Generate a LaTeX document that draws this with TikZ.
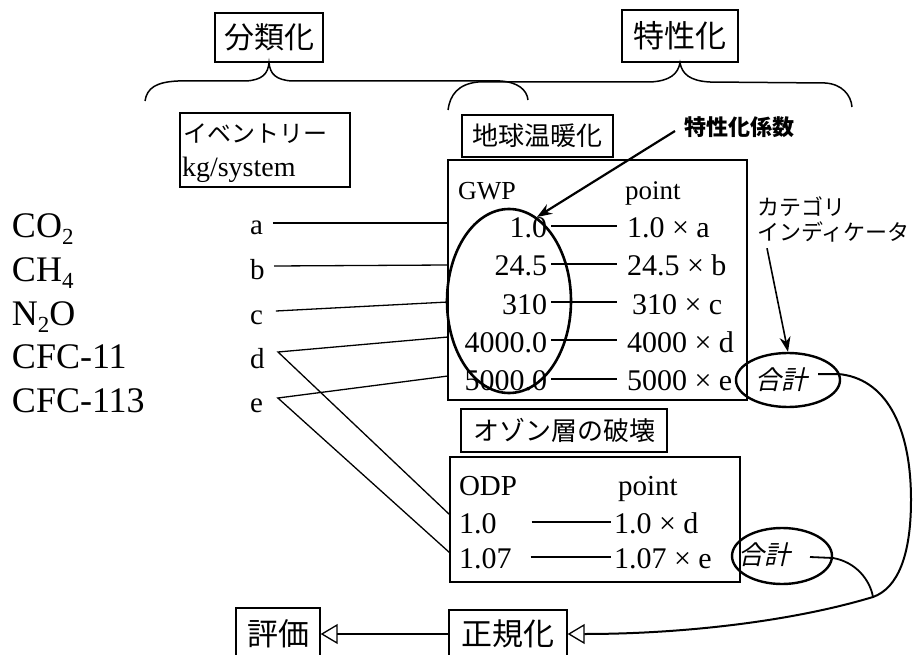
\documentclass[tikz,border=0pt]{standalone}
\usepackage{fontspec}
\setmainfont{Liberation Serif}
\newfontfamily\jp{Noto Sans CJK JP}
\newfontfamily\jpit[FakeSlant=0.22]{Noto Sans CJK JP}
\usetikzlibrary{arrows.meta,shapes.geometric}
\newcommand\sz[1]{\fontsize{#1}{#1}\selectfont}
\newcommand\subsc[1]{\raisebox{-7pt}{\sz{23}#1}}
\tikzset{
  box/.style={draw, line width=1.4pt, inner sep=0pt, rectangle},
  txt/.style={inner sep=0pt, outer sep=0pt},
  thinline/.style={line width=1.3pt},
  bracepath/.style={line width=1.5pt},
  oval/.style={draw, ellipse, inner sep=0pt},
  openarr/.style={-{Triangle[open, length=17pt, width=20pt, line width=1.3pt]}},
  filledarr/.style={-{Stealth[length=15pt, width=11pt]}}
}
\begin{document}
\begin{tikzpicture}[x=1pt,y=-1pt]
\useasboundingbox (0,0) rectangle (913,655);
\clip (0,0) rectangle (913,655);
\fill[white] (0,0) rectangle (913,655);

% top boxes
\node[box, minimum width=108pt, minimum height=49pt, font=\jp\sz{30}] (bunrui) at (269,37.5) {分類化};
\node[box, minimum width=116pt, minimum height=52pt, font=\jp\sz{31}] (tokusei) at (680,36) {特性化};

% braces
\draw[bracepath] (145,101) .. controls (147,88) and (156,82) .. (178,81) -- (246,81)
  .. controls (262,80) and (268,74) .. (bunrui.south)
  .. controls (270,74) and (276,80) .. (292,81) -- (500,81)
  .. controls (518,82) and (527,90) .. (528,100);
\draw[bracepath] (448,110) .. controls (450,95) and (458,84) .. (478,82) -- (650,82)
  .. controls (670,81) and (678,74) .. (tokusei.south)
  .. controls (682,74) and (690,81) .. (710,82) -- (825,83)
  .. controls (842,84) and (851,95) .. (852,107);

% inventory box
\node[box, minimum width=170pt, minimum height=74pt] (inv) at (265,150) {};
\node[txt, anchor=west, font=\jp\sz{24}] (invt) at (183,134) {イベントリー};
\node[txt, anchor=base west, font=\sz{28}] (invu) at (182,177) {kg/system};

% substances
\node[txt, anchor=base west, font=\sz{36}] (co2) at (12,237) {CO\subsc{2}};
\node[txt, anchor=base west, font=\sz{36}] (ch4) at (12,281) {CH\subsc{4}};
\node[txt, anchor=base west, font=\sz{36}] (n2o) at (12,325) {N\subsc{2}O};
\node[txt, anchor=base west, font=\sz{36}] (cfc11) at (12,368) {CFC-11};
\node[txt, anchor=base west, font=\sz{36}] (cfc113) at (12,412) {CFC-113};

\node[txt, anchor=base west, font=\sz{29}] (la) at (250,235) {a};
\node[txt, anchor=base west, font=\sz{29}] (lb) at (250,279) {b};
\node[txt, anchor=base west, font=\sz{29}] (lc) at (250,324) {c};
\node[txt, anchor=base west, font=\sz{29}] (ld) at (250,368) {d};
\node[txt, anchor=base west, font=\sz{29}] (le) at (250,412) {e};

% global warming
\node[box, minimum width=151pt, minimum height=42pt, font=\jp\sz{26}] (gw) at (537.5,136) {地球温暖化};
\node[box, minimum width=299pt, minimum height=240pt] (gwpbox) at (597.5,280) {};
\node[txt, anchor=base west, font=\sz{26}] (gwph) at (458,200) {GWP};
\node[txt, anchor=base west, font=\sz{27}] (gwpp) at (625,200) {point};

\node[txt, anchor=base east, font=\sz{30}] (g1) at (547,237) {1.0};
\node[txt, anchor=base east, font=\sz{30}] (g2) at (547,275) {24.5};
\node[txt, anchor=base east, font=\sz{30}] (g3) at (547,314) {310};
\node[txt, anchor=base east, font=\sz{30}] (g4) at (547,352) {4000.0};
\node[txt, anchor=base east, font=\sz{30}] (g5) at (547,390) {5000.0};

\node[txt, anchor=base west, font=\sz{30}] (r1) at (627,237) {1.0 × a};
\node[txt, anchor=base west, font=\sz{30}] (r2) at (627,275) {24.5 × b};
\node[txt, anchor=base west, font=\sz{30}] (r3) at (632,314) {310 × c};
\node[txt, anchor=base west, font=\sz{30}] (r4) at (627,352) {4000 × d};
\node[txt, anchor=base west, font=\sz{30}] (r5) at (627,390) {5000 × e};

\draw[thinline] ([xshift=4pt,yshift=11pt]g1.base east) -- ([xshift=-10pt,yshift=11pt]r1.base west);
\draw[thinline] ([xshift=4pt,yshift=11pt]g2.base east) -- ([xshift=-10pt,yshift=11pt]r2.base west);
\draw[thinline] ([xshift=4pt,yshift=12pt]g3.base east) -- ([xshift=-15pt,yshift=12pt]r3.base west);
\draw[thinline] ([xshift=4pt,yshift=12pt]g4.base east) -- ([xshift=-10pt,yshift=12pt]r4.base west);
\draw[thinline] ([xshift=4pt,yshift=11pt]g5.base east) -- ([xshift=-10pt,yshift=11pt]r5.base west);

\node[oval, line width=2.6pt, minimum width=124pt, minimum height=184pt] (gwpell) at (509,301) {};

% ozone
\node[box, minimum width=206pt, minimum height=43pt, font=\jp\sz{26}] (ozone) at (564,430.5) {オゾン層の破壊};
\node[box, minimum width=290pt, minimum height=125pt] (odpbox) at (595,519.5) {};
\node[txt, anchor=base west, font=\sz{29}] (odph) at (459,495) {ODP};
\node[txt, anchor=base west, font=\sz{29}] (odpp) at (618,495) {point};
\node[txt, anchor=base west, font=\sz{30}] (o1) at (459,533) {1.0};
\node[txt, anchor=base west, font=\sz{30}] (o2) at (459,568) {1.07};
\node[txt, anchor=base west, font=\sz{30}] (q1) at (614,533) {1.0 × d};
\node[txt, anchor=base west, font=\sz{30}] (q2) at (614,568) {1.07 × e};
\draw[thinline] ([xshift=35pt,yshift=11pt]o1.base east) -- ([xshift=-3pt,yshift=11pt]q1.base west);
\draw[thinline] ([xshift=19pt,yshift=11pt]o2.base east) -- ([xshift=-3pt,yshift=11pt]q2.base west);

% connectors from inventory letters
\coordinate (pa) at ([xshift=10pt,yshift=12pt]la.base east);
\coordinate (pb) at ([xshift=9.5pt,yshift=13pt]lb.base east);
\coordinate (pc) at ([xshift=13pt,yshift=13pt]lc.base east);
\coordinate (pd) at ([xshift=13.5pt,yshift=16pt]ld.base east);
\coordinate (pe) at ([xshift=15pt,yshift=14pt]le.base east);
\coordinate (ga) at (448,223);
\coordinate (gb) at (448,265);
\coordinate (gc) at (448,302);
\coordinate (gd) at (448,337);
\coordinate (ge) at (448,376);
\coordinate (od) at (450,515);
\coordinate (oe) at (450,553);
\draw[thinline] (pa) -- (ga);
\draw[thinline] (pb) -- (gb);
\draw[thinline] (pc) -- (gc);
\draw[thinline] (gd) -- (pd) -- (od);
\draw[thinline] (ge) -- (pe) -- (oe);

% characterization factor label
\node[txt, font=\jp\bfseries\sz{22}] (kf) at (739,127) {特性化係数};
\coordinate (kftip) at (537,217);
\draw[line width=2.2pt, filledarr] ([xshift=-9pt,yshift=-4pt]kf.west) -- (kftip);

% category indicator
\node[txt, anchor=west, font=\jp\sz{22}] (cat1) at (757,207) {カテゴリ};
\node[txt, anchor=west, font=\jp\sz{22}] (cat2) at (757,232) {インディケータ};

% sums
\node[oval, line width=2.4pt, minimum width=104pt, minimum height=54pt] (sum1) at (788,380) {};
\node[txt, font=\jpit\sz{26}] (sum1t) at (781,380) {合計};
\node[oval, line width=2.4pt, minimum width=100pt, minimum height=56pt] (sum2) at (782,556) {};
\node[txt, font=\jpit\sz{26}] (sum2t) at (764,555) {合計};

\draw[line width=1.6pt, filledarr] ([xshift=10pt,yshift=-6pt]cat2.south west) -- (sum1.north);

% bottom
\node[box, minimum width=84pt, minimum height=52pt, font=\jp\sz{31}] (hyoka) at (278,634) {評価};
\node[box, minimum width=118pt, minimum height=48pt, font=\jp\sz{31}] (seiki) at (508,634) {正規化};
\draw[thinline, openarr] (seiki.west) -- (hyoka.east);

\coordinate (s1a) at (818,374);
\coordinate (s1b) at (838,374);
\coordinate (s2a) at (810,557);
\coordinate (s2b) at (833,558);
\coordinate (merge) at (873,597);
\draw[line width=2pt, openarr] (s1a) -- (s1b) .. controls (885,378) and (911,425) .. (911,500)
  .. controls (911,555) and (898,588) .. (merge)
  .. controls (790,622) and (680,634) .. (seiki.east);
\draw[line width=1.8pt] (s2a) -- (s2b) .. controls (856,562) and (870,580) .. (merge);
\end{tikzpicture}
\end{document}
